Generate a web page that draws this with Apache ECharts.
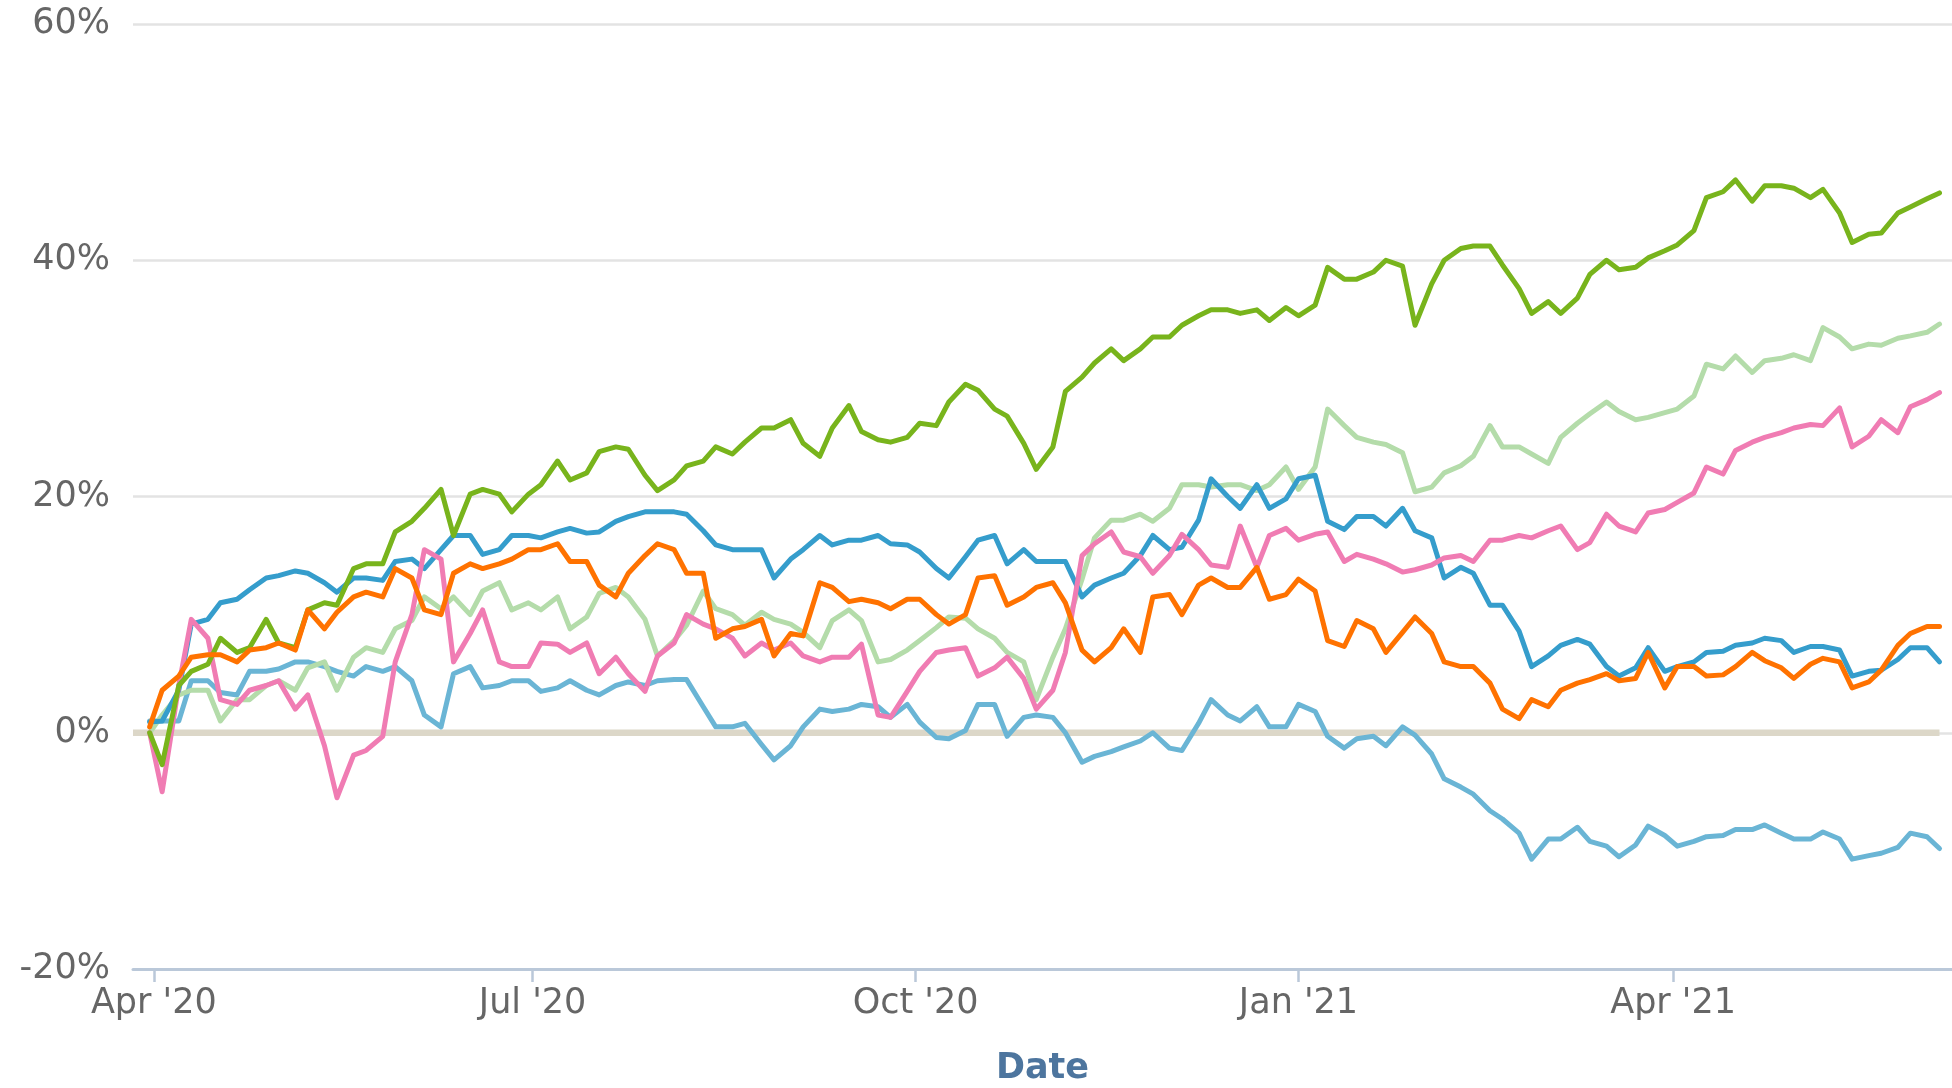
<!DOCTYPE html>
<html>
<head>
<meta charset="utf-8">
<title>Cumulative return</title>
<script src="https://cdn.jsdelivr.net/npm/echarts@6/dist/echarts.min.js"></script>
<style>
  html, body { margin: 0; padding: 0; background: #fff; }
  #chart { width: 1952px; height: 1088px; }
</style>
</head>
<body>
<div id="chart"></div>
<script>
// sample dates (twice a week), shared by every series
var dates = [
  '2020-03-31', '2020-04-03', '2020-04-07', '2020-04-10', '2020-04-14', '2020-04-17', '2020-04-21', '2020-04-24', '2020-04-28', '2020-05-01',
  '2020-05-05', '2020-05-08', '2020-05-12', '2020-05-15', '2020-05-19', '2020-05-22', '2020-05-26', '2020-05-29', '2020-06-02', '2020-06-05',
  '2020-06-09', '2020-06-12', '2020-06-16', '2020-06-19', '2020-06-23', '2020-06-26', '2020-06-30', '2020-07-03', '2020-07-07', '2020-07-10',
  '2020-07-14', '2020-07-17', '2020-07-21', '2020-07-24', '2020-07-28', '2020-07-31', '2020-08-04', '2020-08-07', '2020-08-11', '2020-08-14',
  '2020-08-18', '2020-08-21', '2020-08-25', '2020-08-28', '2020-09-01', '2020-09-04', '2020-09-08', '2020-09-11', '2020-09-15', '2020-09-18',
  '2020-09-22', '2020-09-25', '2020-09-29', '2020-10-02', '2020-10-06', '2020-10-09', '2020-10-13', '2020-10-16', '2020-10-20', '2020-10-23',
  '2020-10-27', '2020-10-30', '2020-11-03', '2020-11-06', '2020-11-10', '2020-11-13', '2020-11-17', '2020-11-20', '2020-11-24', '2020-11-27',
  '2020-12-01', '2020-12-04', '2020-12-08', '2020-12-11', '2020-12-15', '2020-12-18', '2020-12-22', '2020-12-25', '2020-12-29', '2021-01-01',
  '2021-01-05', '2021-01-08', '2021-01-12', '2021-01-15', '2021-01-19', '2021-01-22', '2021-01-26', '2021-01-29', '2021-02-02', '2021-02-05',
  '2021-02-09', '2021-02-12', '2021-02-16', '2021-02-19', '2021-02-23', '2021-02-26', '2021-03-02', '2021-03-05', '2021-03-09', '2021-03-12',
  '2021-03-16', '2021-03-19', '2021-03-23', '2021-03-26', '2021-03-30', '2021-04-02', '2021-04-06', '2021-04-09', '2021-04-13', '2021-04-16',
  '2021-04-20', '2021-04-23', '2021-04-27', '2021-04-30', '2021-05-04', '2021-05-07', '2021-05-11', '2021-05-14', '2021-05-18', '2021-05-21',
  '2021-05-25', '2021-05-28', '2021-06-01', '2021-06-04'
];

// cumulative return, %
var darkGreen = [
  0, -2.7, 4, 5.2, 5.8, 8, 6.8, 7.2, 9.6, 7.6, 7.2, 10.4, 11, 10.8, 13.9, 14.3, 14.3, 17, 17.9, 19, 20.6, 16.7, 20.2, 20.6, 20.2, 18.7, 20.2,
  21, 23, 21.4, 22, 23.8, 24.2, 24, 21.8, 20.5, 21.4, 22.6, 23, 24.2, 23.6, 24.6, 25.8, 25.8, 26.5, 24.5, 23.4, 25.8, 27.7, 25.5, 24.8,
  24.6, 25, 26.2, 26, 28, 29.5, 29, 27.4, 26.8, 24.5, 22.3, 24.2, 28.9, 30.1, 31.3, 32.5, 31.5, 32.5, 33.5, 33.5, 34.5, 35.3, 35.8, 35.8, 35.5, 35.8, 34.9,
  36, 35.3, 36.2, 39.4, 38.4, 38.4, 39, 40, 39.5, 34.5, 38, 40, 41, 41.2, 41.2, 39.6, 37.6, 35.5, 36.5, 35.5, 36.8, 38.8, 40, 39.2, 39.4, 40.2,
  40.8, 41.3, 42.5, 45.3, 45.8, 46.8, 45, 46.3, 46.3, 46.1, 45.3, 46, 44, 41.5, 42.2, 42.3, 44, 44.5, 45.2, 45.7
];
var lightGreen = [
  0, 1.5, 3.2, 3.6, 3.6, 1, 2.8, 2.8, 4, 4.4, 3.6, 5.5, 6, 3.6, 6.4, 7.2, 6.8, 8.8, 9.5, 11.5, 10.5, 11.5, 10, 12, 12.7, 10.4, 11,
  10.4, 11.5, 8.8, 9.8, 11.8, 12.3, 11.5, 9.6, 6.5, 7.8, 9.1, 12, 10.5, 10, 9.1, 10.2, 9.6, 9.2, 8.5, 7.2, 9.5, 10.4, 9.5, 6,
  6.2, 7, 7.8, 8.9, 9.8, 9.7, 8.8, 8, 6.8, 6, 2.8, 6.4, 8.8, 13, 16.5, 18, 18, 18.5, 17.9, 19, 21, 21, 20.8, 21, 21, 20.5, 21,
  22.5, 20.6, 22.5, 27.4, 26, 25, 24.6, 24.4, 23.7, 20.4, 20.8, 22, 22.6, 23.4, 26, 24.2, 24.2, 23.6, 22.8, 25, 26.2, 27, 28, 27.2, 26.5, 26.7,
  27.1, 27.4, 28.5, 31.2, 30.8, 31.9, 30.5, 31.5, 31.7, 32, 31.5, 34.3, 33.5, 32.5, 32.9, 32.8, 33.4, 33.6, 33.9, 34.6
];
var pink = [
  0, -5, 4, 9.6, 8, 2.8, 2.4, 3.6, 4, 4.4, 2, 3.2, -1.1, -5.5, -1.9, -1.5, -0.3, 6, 10, 15.5, 14.7, 6, 8.4, 10.4, 6, 5.6, 5.6,
  7.6, 7.5, 6.8, 7.6, 5, 6.4, 5, 3.5, 6.5, 7.6, 10, 9.2, 8.8, 8, 6.5, 7.6, 7, 7.6, 6.5, 6, 6.4, 6.4, 7.5, 1.5,
  1.3, 3.5, 5.2, 6.8, 7, 7.2, 4.8, 5.5, 6.4, 4.6, 2, 3.6, 6.8, 15, 16, 17, 15.3, 14.9, 13.5, 15, 16.8, 15.5, 14.2, 14, 17.5, 14, 16.7,
  17.3, 16.3, 16.8, 17, 14.5, 15.1, 14.7, 14.3, 13.6, 13.8, 14.2, 14.8, 15, 14.5, 16.3, 16.3, 16.7, 16.5, 17.1, 17.5, 15.5, 16.1, 18.5, 17.5, 17, 18.6,
  18.9, 19.5, 20.3, 22.5, 21.9, 23.9, 24.6, 25, 25.4, 25.8, 26.1, 26, 27.5, 24.2, 25.1, 26.5, 25.4, 27.6, 28.2, 28.8
];
var darkBlue = [
  0.9, 1, 3.6, 9.2, 9.6, 11, 11.3, 12.1, 13.1, 13.3, 13.7, 13.5, 12.7, 11.9, 13.1, 13.1, 12.9, 14.5, 14.7, 13.9, 15.5, 16.7, 16.7, 15.1, 15.5, 16.7, 16.7,
  16.5, 17, 17.3, 16.9, 17, 17.9, 18.3, 18.7, 18.7, 18.7, 18.5, 17.1, 15.9, 15.5, 15.5, 15.5, 13.1, 14.7, 15.5, 16.7, 15.9, 16.3, 16.3, 16.7,
  16, 15.9, 15.3, 13.9, 13.1, 14.9, 16.3, 16.7, 14.3, 15.5, 14.5, 14.5, 14.5, 11.5, 12.5, 13.1, 13.5, 15, 16.7, 15.5, 15.7, 18, 21.5, 20, 19, 21, 19,
  19.8, 21.5, 21.8, 17.9, 17.2, 18.3, 18.3, 17.5, 19, 17.1, 16.5, 13.1, 14, 13.5, 10.8, 10.8, 8.6, 5.6, 6.5, 7.4, 7.9, 7.5, 5.6, 4.8, 5.5, 7.2,
  5.2, 5.6, 6, 6.8, 6.9, 7.4, 7.6, 8, 7.8, 6.8, 7.3, 7.3, 7, 4.8, 5.2, 5.3, 6.2, 7.2, 7.2, 6
];
var lightBlue = [
  1, 1, 1, 4.4, 4.4, 3.4, 3.2, 5.2, 5.2, 5.4, 6, 6, 5.6, 5.2, 4.8, 5.6, 5.2, 5.6, 4.4, 1.5, 0.5, 5, 5.6, 3.8, 4, 4.4, 4.4,
  3.5, 3.8, 4.4, 3.6, 3.2, 4, 4.3, 4, 4.4, 4.5, 4.5, 2.2, 0.5, 0.5, 0.8, -1, -2.3, -1.1, 0.5, 2, 1.8, 2, 2.4, 2.2,
  1.3, 2.4, 0.9, -0.4, -0.5, 0.2, 2.4, 2.4, -0.3, 1.3, 1.5, 1.3, 0, -2.5, -2, -1.6, -1.2, -0.7, 0, -1.3, -1.5, 0.8, 2.8, 1.5, 1, 2.2, 0.5,
  0.5, 2.4, 1.8, -0.3, -1.3, -0.5, -0.3, -1.1, 0.5, -0.2, -1.8, -3.9, -4.6, -5.2, -6.6, -7.3, -8.5, -10.7, -9, -9, -8, -9.2, -9.6, -10.5, -9.5, -7.9,
  -8.7, -9.6, -9.2, -8.8, -8.7, -8.2, -8.2, -7.8, -8.5, -9, -9, -8.4, -9, -10.7, -10.4, -10.2, -9.7, -8.5, -8.8, -9.8
];
var orange = [
  0.5, 3.6, 4.8, 6.4, 6.6, 6.6, 6, 7, 7.2, 7.6, 7, 10.4, 8.8, 10.2, 11.5, 11.9, 11.5, 13.9, 13.1, 10.4, 10, 13.5, 14.3, 13.9, 14.3, 14.7, 15.5,
  15.5, 16, 14.5, 14.5, 12.5, 11.5, 13.5, 15, 16, 15.5, 13.5, 13.5, 8, 8.8, 9, 9.6, 6.5, 8.4, 8.2, 12.7, 12.3, 11.1, 11.3, 11,
  10.5, 11.3, 11.3, 10, 9.2, 10, 13.1, 13.3, 10.8, 11.5, 12.3, 12.7, 11, 7, 6, 7.2, 8.8, 6.8, 11.5, 11.7, 10, 12.5, 13.1, 12.3, 12.3, 14, 11.3,
  11.7, 13, 12, 7.8, 7.3, 9.5, 8.8, 6.8, 8.5, 9.8, 8.4, 6, 5.6, 5.6, 4.2, 2, 1.2, 2.8, 2.2, 3.6, 4.2, 4.5, 5, 4.4, 4.6, 6.8,
  3.8, 5.6, 5.6, 4.8, 4.9, 5.6, 6.8, 6.1, 5.5, 4.6, 5.8, 6.3, 6, 3.8, 4.3, 5.3, 7.4, 8.4, 9, 9
];
// flat benchmark line at 0%
var benchmarkDates = ['2020-03-27', '2021-06-04'];
var benchmark = [0, 0];

// x axis ticks
var tickDates = ['2020-04-01', '2020-07-01', '2020-10-01', '2021-01-01', '2021-04-01'];
var tickLabels = ["Apr '20", "Jul '20", "Oct '20", "Jan '21", "Apr '21"];
var yTicks = [-20, 0, 20, 40, 60];

function toTime(s) {
    return new Date(s + 'T00:00:00').getTime();
}
function pairs(ds, vs) {
    return ds.map(function (d, i) { return [toTime(d), vs[i]]; });
}

var tickTimes = tickDates.map(toTime);
var font = 'DejaVu Sans';

var chart = echarts.init(document.getElementById('chart'));

function lineSeries(name, values, color) {
    return {
        name: name,
        type: 'line',
        data: pairs(dates, values),
        showSymbol: false,
        symbol: 'none',
        silent: true,
        lineStyle: { color: color, width: 5, join: 'round', cap: 'round' },
        itemStyle: { color: color }
    };
}

var option = {
    animation: false,
    backgroundColor: '#ffffff',
    grid: { left: 133, right: 0, top: 24, bottom: 119, containLabel: false, outerBoundsMode: 'none' },
    xAxis: {
        type: 'value',
        min: toTime('2020-03-27'),
        max: toTime('2021-06-07'),
        name: 'Date',
        nameLocation: 'middle',
        nameGap: 82,
        nameTextStyle: { fontFamily: font, fontSize: 35, fontWeight: 'bold', color: '#4d759e' },
        axisLine: { show: true, onZero: false, lineStyle: { color: '#bac8d9', width: 3 } },
        axisTick: { show: true, customValues: tickTimes, length: 13, lineStyle: { color: '#bac8d9', width: 2.5 } },
        axisLabel: {
            customValues: tickTimes,
            fontFamily: font,
            fontSize: 35,
            color: '#666666',
            margin: 17,
            formatter: function (v) {
                var i = tickTimes.indexOf(v);
                return i >= 0 ? tickLabels[i] : '';
            }
        },
        splitLine: { show: false }
    },
    yAxis: {
        type: 'value',
        min: yTicks[0],
        max: yTicks[yTicks.length - 1],
        interval: 20,
        axisLine: { show: false },
        axisTick: { show: false },
        axisLabel: { fontFamily: font, fontSize: 35, color: '#666666', margin: 23, formatter: '{value}%' },
        splitLine: { lineStyle: { color: '#e3e3e3', width: 2.5 } }
    },
    series: [
        {
            name: 'Benchmark',
            type: 'line',
            data: pairs(benchmarkDates, benchmark),
            showSymbol: false,
            symbol: 'none',
            silent: true,
            lineStyle: { color: '#dcd7c8', width: 6.5 }
        },
        lineSeries('Light blue', lightBlue, '#6ab5d5'),
        lineSeries('Light green', lightGreen, '#b4dcaa'),
        lineSeries('Dark blue', darkBlue, '#359dcc'),
        lineSeries('Pink', pink, '#f07cb3'),
        lineSeries('Dark green', darkGreen, '#78b41c'),
        lineSeries('Orange', orange, '#ff7200')
    ]
};
chart.setOption(option);
window.addEventListener('resize', function () { chart.resize(); });
</script>
</body>
</html>
